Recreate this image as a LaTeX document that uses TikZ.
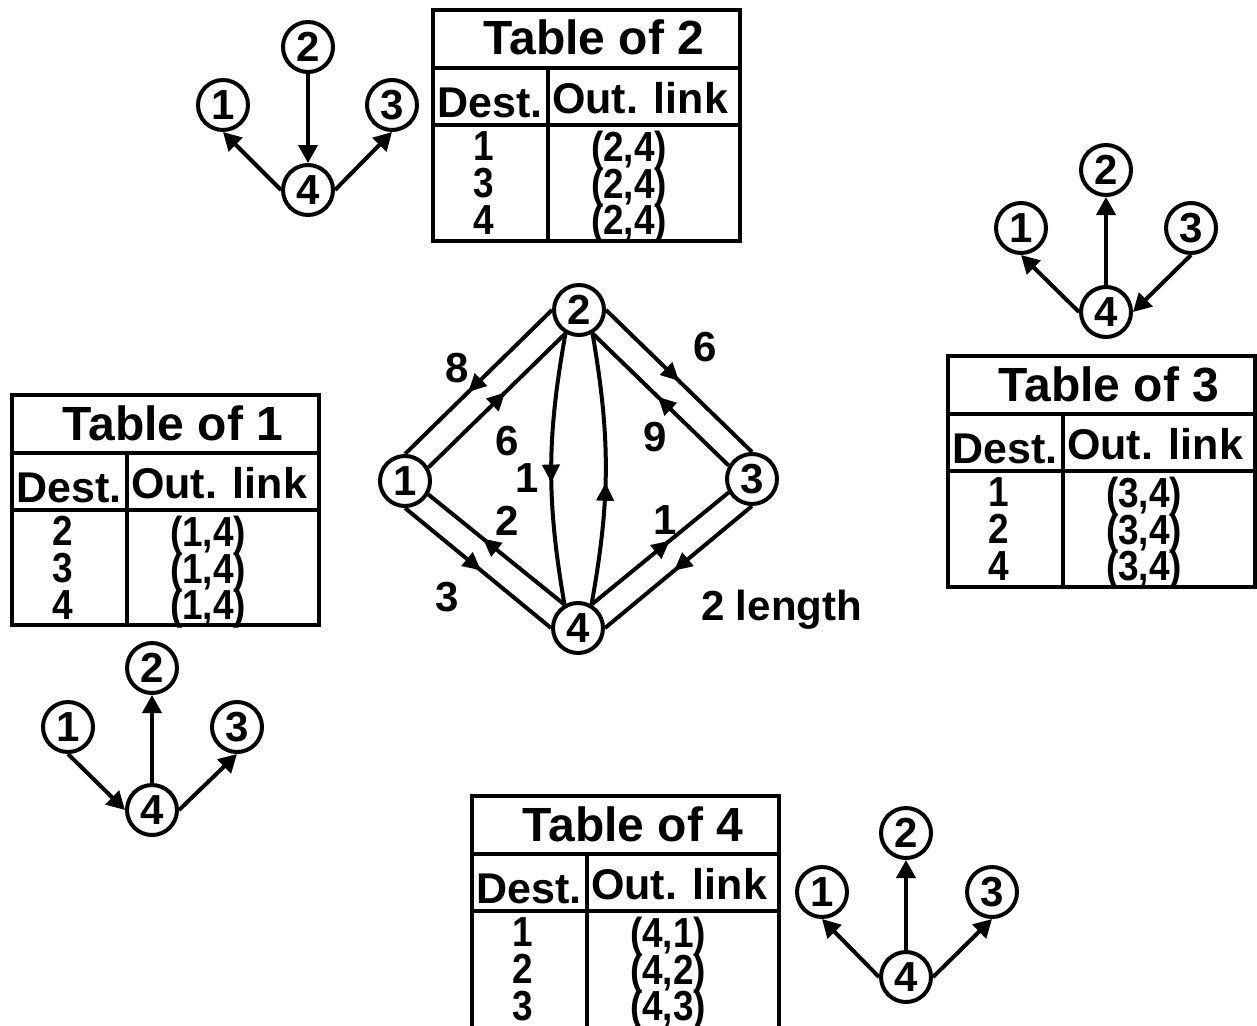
\documentclass[tikz,border=0pt]{standalone}
\usepackage{fontspec}
\setmainfont{Liberation Sans}
\newfontfamily\narrowsans{Liberation Sans}[FakeStretch=0.88]
\usetikzlibrary{arrows.meta, decorations.markings}

\begin{document}
\begin{tikzpicture}[x=1pt, y=-1pt, line width=4pt,
    vtx/.style={draw, circle, minimum size=50pt, inner sep=0pt,
        font=\fontsize{42}{42}\selectfont\bfseries},
    lbl/.style={inner sep=0pt, font=\fontsize{42}{42}\selectfont\bfseries},
    arr/.style={-{Triangle[length=18pt,width=19pt]}},
    midarr/.style={postaction={decorate}, decoration={markings,
        mark=at position #1 with {\arrow{Triangle[length=18pt,width=17pt]}}}},
    midarr/.default=0.55,
    ttl/.style={inner sep=0pt, anchor=base, font=\fontsize{48}{48}\selectfont\bfseries},
    hdr/.style={inner sep=0pt, anchor=base, font=\fontsize{43}{43}\selectfont\bfseries},
    cell/.style={inner sep=0pt, anchor=base, font=\narrowsans\fontsize{42}{42}\selectfont\bfseries}]

    \clip (0,0) rectangle (1257,1025);

    % Network with link lengths
    \node[vtx] (g1) at (405,481) {1};
    \node[vtx] (g2) at (579,310) {2};
    \node[vtx] (g3) at (752,479) {3};
    \node[vtx] (g4) at (578,628) {4};

    \draw[midarr=0.57] (g2.180) -- (g1.90);
    \draw[midarr=0.56] (g1.30) -- (g2.240);
    \draw[midarr=0.5] (g2.0) -- (g3.90);
    \draw[midarr=0.52] (g3.150) -- (g2.300);
    \draw[midarr=0.52] (g1.270) -- (g4.180);
    \draw[midarr=0.6] (g4.120) -- (g1.330);
    \draw[midarr=0.53] (g3.270) -- (g4.0);
    \draw[midarr=0.57] (g4.60) -- (g3.210);
    \draw[midarr=0.55] (g2.240) to[bend right=10] (g4.120);
    \draw[midarr=0.45] (g4.60) to[bend right=10] (g2.300);

    % Lengths
    \node[lbl] (w21) at (457,368) {8};
    \node[lbl] (w12) at (507,441) {6};
    \node[lbl] (w24) at (527,478) {1};
    \node[lbl] (w23) at (705,347) {6};
    \node[lbl] (w32) at (655,437) {9};
    \node[lbl] (w14) at (447,597) {3};
    \node[lbl] (w41) at (507,521) {2};
    \node[lbl] (w43) at (665,520) {1};
    \node[lbl, anchor=base west] (w34) at (699,620) {2 length};

    % Tree of 2
    \node[vtx] (a1) at (223,105) {1};
    \node[vtx] (a2) at (308,47) {2};
    \node[vtx] (a3) at (392,105) {3};
    \node[vtx] (a4) at (308,190) {4};
    \draw[arr] (a2) -- (a4);
    \draw[arr] (a4.west) -- (a1.south);
    \draw[arr] (a4.east) -- (a3.south);

    % Tree of 3
    \node[vtx] (b1) at (1021,228) {1};
    \node[vtx] (b2) at (1106,170) {2};
    \node[vtx] (b3) at (1191,228) {3};
    \node[vtx] (b4) at (1106,312) {4};
    \draw[arr] (b4) -- (b2);
    \draw[arr] (b4.west) -- (b1.south);
    \draw[arr] (b3.south) -- (b4.east);

    % Tree of 1
    \node[vtx] (c1) at (68,727) {1};
    \node[vtx] (c2) at (152,668) {2};
    \node[vtx] (c3) at (237,727) {3};
    \node[vtx] (c4) at (152,810) {4};
    \draw[arr] (c4) -- (c2);
    \draw[arr] (c1.south) -- (c4.west);
    \draw[arr] (c4.east) -- (c3.south);

    % Tree of 4
    \node[vtx] (d1) at (822,892) {1};
    \node[vtx] (d2) at (906,833) {2};
    \node[vtx] (d3) at (992,892) {3};
    \node[vtx] (d4) at (906,977) {4};
    \draw[arr] (d4) -- (d2);
    \draw[arr] (d4.west) -- (d1.south);
    \draw[arr] (d4.east) -- (d3.south);

    % Routing tables
    \foreach \tx/\ty/\k/\ra/\rb/\rc/\oa/\ob/\oc/\h in {
        12/395/1/2/3/4/4/4/4/230,
        433/10/2/1/3/4/4/4/4/231,
        948/356/3/1/2/4/4/4/4/231,
        472/796/4/1/2/3/1/2/3/250} {
    \begin{scope}[shift={(\tx,\ty)}]
        \draw (0,0) rectangle (307,\h);
        \draw (0,58) -- (307,58);
        \draw (0,115) -- (307,115);
        \draw (115,58) -- (115,\h);
        \node[ttl] (tab\k) at (161,45) {Table of \k};
        \node[hdr] (dst\k) at (57,107) {Dest.};
        \node[hdr] (out\k) at (207,103) {Out. link};
        \node[cell] (dst\k-1) at (51,150) {\ra};
        \node[cell] (dst\k-2) at (51,187) {\rb};
        \node[cell] (dst\k-3) at (51,224) {\rc};
        \node[cell] (out\k-1) at (196,151) {(\k,\oa)};
        \node[cell] (out\k-2) at (196,188) {(\k,\ob)};
        \node[cell] (out\k-3) at (196,224) {(\k,\oc)};
    \end{scope}
    }

\end{tikzpicture}
\end{document}
